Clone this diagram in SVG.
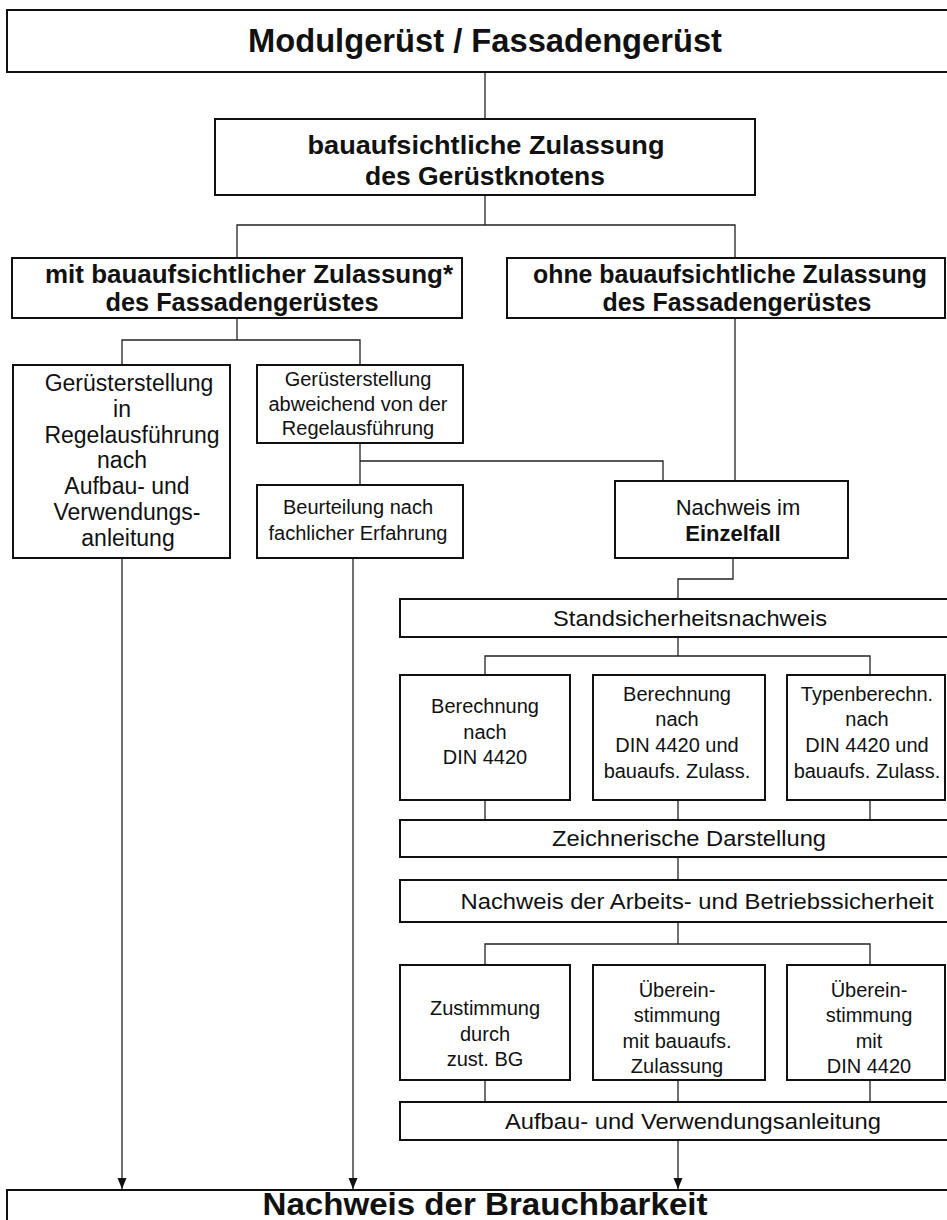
<svg xmlns="http://www.w3.org/2000/svg" width="947" height="1220" viewBox="0 0 947 1220">
  <style>
    .box { fill: #fff; stroke: #111; stroke-width: 2; }
    .wire { fill: none; stroke: #222; stroke-width: 1.3; }
    text { font-family: "Liberation Sans", Arial, sans-serif; fill: #111; text-anchor: middle; }
    .h { font-weight: bold; }
    .t20 { font-size: 20px; }
    .t22 { font-size: 22.5px; }
  </style>
  <defs>
    <!-- small filled arrowhead, drawn along +x so orient="auto" points it down the wire -->
    <marker id="arrow" markerUnits="userSpaceOnUse" markerWidth="11" markerHeight="10" refX="11" refY="5" orient="auto" viewBox="0 0 11 10">
      <path d="M0,0.5 L11,5 L0,9.5 Z" fill="#111"/>
    </marker>
  </defs>

  <rect width="947" height="1220" fill="#fff"/>

  <!-- connectors -->
  <g id="connectors" class="wire">
    <path d="M485,72 V119"/>
    <path d="M485,195 V225"/>
    <path d="M237,258 V225 H735 V258"/>
    <path d="M237,318 V340"/>
    <path d="M122,365 V340 H360 V365"/>
    <path d="M735,318 V481"/>
    <path d="M360,443 V485"/>
    <path d="M360,461 H663 V481"/>
    <path d="M733,558 V579 H678 V599"/>
    <path d="M678,637 V656"/>
    <path d="M485,675 V656 H870 V675"/>
    <path d="M485,800 V820"/>
    <path d="M678,800 V820"/>
    <path d="M870,800 V820"/>
    <path d="M678,857 V880"/>
    <path d="M678,922 V944"/>
    <path d="M485,965 V944 H870 V965"/>
    <path d="M485,1080 V1102"/>
    <path d="M678,1080 V1102"/>
    <path d="M870,1080 V1102"/>
    <path d="M122,558 V1189" marker-end="url(#arrow)"/>
    <path d="M353,558 V1189" marker-end="url(#arrow)"/>
    <path d="M678,1140 V1189" marker-end="url(#arrow)"/>
  </g>

  <g id="n-modulgeruest">
    <rect class="box" x="7" y="10" width="950" height="62"/>
    <text class="h" x="485" y="52" font-size="34" textLength="474" lengthAdjust="spacingAndGlyphs">Modulgerüst / Fassadengerüst</text>
  </g>

  <g id="n-zulassung-knoten">
    <rect class="box" x="215" y="119" width="540" height="76"/>
    <text class="h" x="486" y="154" font-size="26" textLength="357" lengthAdjust="spacingAndGlyphs">bauaufsichtliche Zulassung</text>
    <text class="h" x="485" y="185" font-size="26" textLength="240" lengthAdjust="spacingAndGlyphs">des Gerüstknotens</text>
  </g>

  <g id="n-mit-zulassung">
    <rect class="box" x="12" y="258" width="450" height="60"/>
    <text class="h" x="249" y="283" font-size="25.5" textLength="408" lengthAdjust="spacingAndGlyphs">mit bauaufsichtlicher Zulassung*</text>
    <text class="h" x="242" y="311" font-size="25.5" textLength="273" lengthAdjust="spacingAndGlyphs">des Fassadengerüstes</text>
  </g>

  <g id="n-ohne-zulassung">
    <rect class="box" x="507" y="258" width="438" height="60"/>
    <text class="h" x="730" y="283" font-size="25" textLength="394" lengthAdjust="spacingAndGlyphs">ohne bauaufsichtliche Zulassung</text>
    <text class="h" x="737" y="311" font-size="25.5" textLength="269" lengthAdjust="spacingAndGlyphs">des Fassadengerüstes</text>
  </g>

  <g id="n-regelausfuehrung" font-size="23">
    <rect class="box" x="13" y="365" width="217" height="193"/>
    <text x="129" y="391">Gerüsterstellung</text>
    <text x="122" y="417">in</text>
    <text x="132" y="443">Regelausführung</text>
    <text x="122" y="468">nach</text>
    <text x="127" y="494">Aufbau- und</text>
    <text x="127" y="520">Verwendungs-</text>
    <text x="128" y="546">anleitung</text>
  </g>

  <g id="n-abweichend" class="t20">
    <rect class="box" x="257" y="365" width="206" height="78"/>
    <text x="358" y="386">Gerüsterstellung</text>
    <text x="358" y="411">abweichend von der</text>
    <text x="358" y="435">Regelausführung</text>
  </g>

  <g id="n-beurteilung" class="t20">
    <rect class="box" x="257" y="485" width="206" height="73"/>
    <text x="358" y="514">Beurteilung nach</text>
    <text x="358" y="540">fachlicher Erfahrung</text>
  </g>

  <g id="n-einzelfall" font-size="22">
    <rect class="box" x="615" y="481" width="233" height="77"/>
    <text x="738" y="515">Nachweis im</text>
    <text class="h" x="733" y="541">Einzelfall</text>
  </g>

  <g id="n-standsicherheit">
    <rect class="box" x="400" y="599" width="557" height="38"/>
    <text class="t22" x="690" y="626" textLength="274" lengthAdjust="spacingAndGlyphs">Standsicherheitsnachweis</text>
  </g>

  <g id="n-berechnung-din" class="t20">
    <rect class="box" x="400" y="675" width="170" height="125"/>
    <text x="485" y="713">Berechnung</text>
    <text x="485" y="739">nach</text>
    <text x="485" y="764">DIN 4420</text>
  </g>

  <g id="n-berechnung-din-zul" class="t20">
    <rect class="box" x="593" y="675" width="172" height="125"/>
    <text x="677" y="701">Berechnung</text>
    <text x="677" y="726">nach</text>
    <text x="677" y="752">DIN 4420 und</text>
    <text x="677" y="778">bauaufs. Zulass.</text>
  </g>

  <g id="n-typenberechnung" class="t20">
    <rect class="box" x="787" y="675" width="158" height="125"/>
    <text x="867" y="701">Typenberechn.</text>
    <text x="867" y="726">nach</text>
    <text x="867" y="752">DIN 4420 und</text>
    <text x="867" y="778">bauaufs. Zulass.</text>
  </g>

  <g id="n-zeichnerisch">
    <rect class="box" x="400" y="820" width="557" height="37"/>
    <text class="t22" x="689" y="846" textLength="274" lengthAdjust="spacingAndGlyphs">Zeichnerische Darstellung</text>
  </g>

  <g id="n-arbeitssicherheit">
    <rect class="box" x="400" y="880" width="557" height="42"/>
    <text class="t22" x="697" y="909" textLength="473" lengthAdjust="spacingAndGlyphs">Nachweis der Arbeits- und Betriebssicherheit</text>
  </g>

  <g id="n-zustimmung" class="t20">
    <rect class="box" x="400" y="965" width="170" height="115"/>
    <text x="485" y="1015">Zustimmung</text>
    <text x="485" y="1041">durch</text>
    <text x="485" y="1066">zust. BG</text>
  </g>

  <g id="n-uebereinstimmung-zul" class="t20">
    <rect class="box" x="593" y="965" width="172" height="115"/>
    <text x="677" y="997">Überein-</text>
    <text x="677" y="1022">stimmung</text>
    <text x="677" y="1048">mit bauaufs.</text>
    <text x="677" y="1073">Zulassung</text>
  </g>

  <g id="n-uebereinstimmung-din" class="t20">
    <rect class="box" x="787" y="965" width="158" height="115"/>
    <text x="869" y="997">Überein-</text>
    <text x="869" y="1022">stimmung</text>
    <text x="869" y="1048">mit</text>
    <text x="869" y="1073">DIN 4420</text>
  </g>

  <g id="n-aufbauanleitung">
    <rect class="box" x="400" y="1102" width="557" height="38"/>
    <text class="t22" x="693" y="1129" textLength="376" lengthAdjust="spacingAndGlyphs">Aufbau- und Verwendungsanleitung</text>
  </g>

  <g id="n-brauchbarkeit">
    <rect class="box" x="7" y="1190" width="950" height="50"/>
    <text class="h" x="485" y="1215" font-size="32" textLength="445" lengthAdjust="spacingAndGlyphs">Nachweis der Brauchbarkeit</text>
  </g>
</svg>
